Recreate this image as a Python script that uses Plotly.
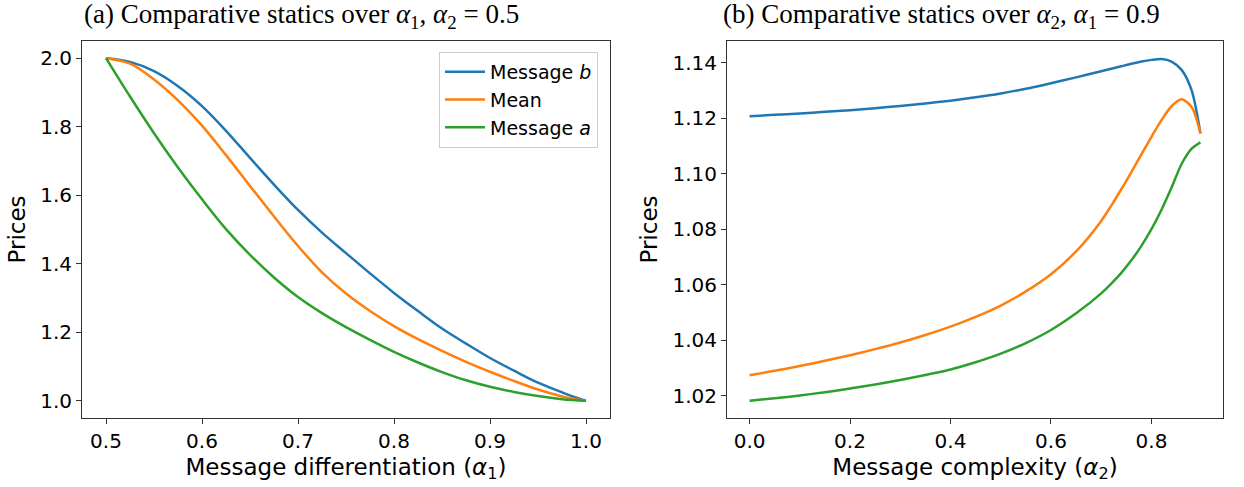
import plotly.graph_objects as go

# ---- Panel (a): prices vs. message differentiation alpha_1 (alpha_2 = 0.5) ----
alpha1 = [0.500, 0.525, 0.550, 0.575, 0.600, 0.625, 0.650, 0.675, 0.700, 0.725, 0.750,
          0.775, 0.800, 0.825, 0.850, 0.875, 0.900, 0.925, 0.950, 0.975, 1.000]
price_b_a1 = [2.000, 1.989, 1.962, 1.918, 1.860, 1.788, 1.709, 1.631, 1.557, 1.491, 1.431,
              1.372, 1.315, 1.262, 1.211, 1.167, 1.125, 1.088, 1.053, 1.025, 1.000]
price_mean_a1 = [2.000, 1.984, 1.938, 1.877, 1.803, 1.717, 1.627, 1.538, 1.452, 1.375, 1.313,
                 1.262, 1.218, 1.180, 1.146, 1.114, 1.085, 1.058, 1.033, 1.013, 1.000]
price_a_a1 = [2.000, 1.888, 1.781, 1.681, 1.588, 1.501, 1.426, 1.360, 1.303, 1.256, 1.215,
              1.178, 1.143, 1.112, 1.084, 1.060, 1.041, 1.026, 1.014, 1.005, 1.000]

# ---- Panel (b): prices vs. message complexity alpha_2 (alpha_1 = 0.9) ----
alpha2 = [0.00, 0.05, 0.10, 0.15, 0.20, 0.25, 0.30, 0.35, 0.40, 0.45, 0.50, 0.55,
          0.60, 0.65, 0.70, 0.72, 0.74, 0.76, 0.78, 0.80, 0.82, 0.84, 0.86, 0.88, 0.8975]
price_b_a2 = [1.1207, 1.1212, 1.1217, 1.1223, 1.1229, 1.1236, 1.1244, 1.1253, 1.1263,
              1.1275, 1.1289, 1.1306, 1.1326, 1.1347, 1.1369, 1.1378, 1.1387, 1.1396,
              1.1404, 1.1410, 1.1413, 1.1404, 1.1374, 1.1300, 1.1145]
price_mean_a2 = [1.0274, 1.0290, 1.0307, 1.0326, 1.0346, 1.0368, 1.0392, 1.0419, 1.0449,
                 1.0484, 1.0525, 1.0576, 1.0638, 1.0720, 1.0830, 1.0885, 1.0944, 1.1006,
                 1.1070, 1.1133, 1.1193, 1.1243, 1.1268, 1.1240, 1.1145]
price_a_a2 = [1.0182, 1.0191, 1.0201, 1.0213, 1.0226, 1.0241, 1.0257, 1.0275, 1.0295,
              1.0321, 1.0352, 1.0390, 1.0437, 1.0497, 1.0569, 1.0604, 1.0643, 1.0688,
              1.0740, 1.0800, 1.0870, 1.0950, 1.1035, 1.1090, 1.1113]

series_names = ["Message <i>b</i>", "Mean", "Message <i>a</i>"]
colors = ["#1f77b4", "#ff7f0e", "#2ca02c"]

W, H = 1244, 487
SANS = "DejaVu Sans"
SERIF = "Liberation Serif"

fig = go.Figure()

for name, ys, c in zip(series_names, [price_b_a1, price_mean_a1, price_a_a1], colors):
    fig.add_trace(go.Scatter(x=alpha1, y=ys, mode="lines", name=name,
                             line=dict(color=c, width=2.5, shape="spline", smoothing=1.0),
                             xaxis="x", yaxis="y"))

for name, ys, c in zip(series_names, [price_b_a2, price_mean_a2, price_a_a2], colors):
    fig.add_trace(go.Scatter(x=alpha2, y=ys, mode="lines", name=name, showlegend=False,
                             line=dict(color=c, width=2.5, shape="spline", smoothing=0.8),
                             xaxis="x2", yaxis="y2"))


def px_x(p):
    return p / W


def px_y(p):
    return 1 - p / H


axis_common = dict(
    showline=True, mirror=True, linecolor="#333333", linewidth=1,
    ticks="outside", ticklen=5, tickwidth=1, tickcolor="#333333",
    showgrid=False, zeroline=False, automargin=False,
    tickfont=dict(family=SANS, size=20, color="black"),
)
label_font = dict(family=SANS, size=23, color="black")

fig.update_layout(
    width=W, height=H, autosize=False,
    margin=dict(l=0, r=0, t=0, b=0),
    paper_bgcolor="white", plot_bgcolor="white",
    xaxis=dict(axis_common, domain=[px_x(82), px_x(610)], range=[0.475, 1.025],
               dtick=0.1, tick0=0.5, tickformat=".1f", anchor="y",
               title=dict(text="Message differentiation (<i>α</i><sub>1</sub>)",
                          font=label_font, standoff=6)),
    yaxis=dict(axis_common, domain=[px_y(418), px_y(41)], range=[0.95, 2.05],
               dtick=0.2, tick0=1.0, tickformat=".1f", anchor="x",
               title=dict(text="Prices", font=label_font, standoff=8)),
    xaxis2=dict(axis_common, domain=[px_x(727), px_x(1223)], range=[-0.0449, 0.9424],
                dtick=0.2, tick0=0.0, tickformat=".1f", anchor="y2",
                title=dict(text="Message complexity (<i>α</i><sub>2</sub>)",
                           font=label_font, standoff=6)),
    yaxis2=dict(axis_common, domain=[px_y(418), px_y(41)], range=[1.0120, 1.1478],
                dtick=0.02, tick0=1.0, tickformat=".2f", anchor="x2",
                title=dict(text="Prices", font=label_font, standoff=8)),
    legend=dict(x=px_x(598), y=px_y(52), xanchor="right", yanchor="top",
                bgcolor="rgba(255,255,255,0.8)", bordercolor="#cccccc", borderwidth=1,
                font=dict(family=SANS, size=19, color="black"),
                itemwidth=40, tracegroupgap=0),
    showlegend=True,
    annotations=[
        dict(text="(a) Comparative statics over <i>α</i><sub>1</sub>, <i>α</i><sub>2</sub> = 0.5",
             x=px_x(301), y=px_y(16), xref="paper", yref="paper",
             xanchor="center", yanchor="middle", showarrow=False,
             font=dict(family=SERIF, size=27, color="black")),
        dict(text="(b) Comparative statics over <i>α</i><sub>2</sub>, <i>α</i><sub>1</sub> = 0.9",
             x=px_x(941), y=px_y(16), xref="paper", yref="paper",
             xanchor="center", yanchor="middle", showarrow=False,
             font=dict(family=SERIF, size=27, color="black")),
    ],
)

fig.write_html("out.html")
